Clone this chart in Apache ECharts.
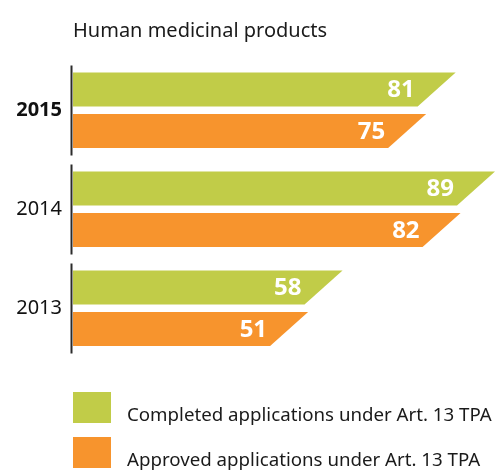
<!DOCTYPE html>
<html>
<head>
<meta charset="utf-8">
<script src="https://cdn.jsdelivr.net/npm/echarts@6/dist/echarts.min.js"></script>
<style>
  html, body { margin: 0; padding: 0; background: #fff; }
  #chart { width: 496px; height: 470px; }
</style>
</head>
<body>
<div id="chart"></div>
<script>
// years, top to bottom
var years = ['2015', '2014', '2013'];
var completed = [81, 89, 58];
var approved = [75, 82, 51];
var seriesNames = ['Completed applications under Art. 13 TPA', 'Approved applications under Art. 13 TPA'];

var GREEN = '#c1cc48';
var ORANGE = '#f7942d';
var FONT = '"Noto Sans", sans-serif';
var XMIN = 3, XMAX = 89.2;

// slanted bar: top-right corner sits on the value, bottom edge is cut back
function slantBar(offset, color) {
    return function (params, api) {
        var v = api.value(0);
        var c = api.value(1);
        var end = api.coord([v, c]);
        var x0 = api.coord([XMIN, c])[0] + 1;
        var band = api.size([0, 1])[1];
        var yc = end[1] + offset * band;
        var h = 34, cut = 38;
        var top = yc - h / 2, bot = yc + h / 2;
        return {
            type: 'group',
            children: [{
                type: 'polygon',
                shape: { points: [[x0, top], [end[0], top], [end[0] - cut, bot], [x0, bot]] },
                style: { fill: color }
            }, {
                type: 'text',
                style: {
                    text: String(v),
                    x: end[0] - cut - 3,
                    y: yc + 1,
                    align: 'right',
                    verticalAlign: 'middle',
                    fill: '#fff',
                    font: 'bold 24px ' + FONT
                }
            }]
        };
    };
}

// one vertical axis piece per year group
function axisPiece(params, api) {
    var c = api.value(1);
    var p = api.coord([XMIN, c]);
    return {
        type: 'line',
        shape: { x1: p[0] - 0.5, y1: p[1] - 45, x2: p[0] - 0.5, y2: p[1] + 45 },
        style: { stroke: '#2b2b2b', lineWidth: 2 }
    };
}

var option = {
    animation: false,
    title: {
        text: 'Human medicinal products',
        left: 68,
        top: 16,
        textStyle: { fontFamily: FONT, fontWeight: 'normal', fontSize: 20, color: '#1a1a1a' }
    },
    legend: {
        orient: 'vertical',
        left: 73,
        top: 392,
        height: 120,
        padding: 0,
        itemWidth: 38,
        itemHeight: 31,
        itemGap: 12,
        icon: 'rect',
        data: seriesNames,
        formatter: function (name) { return '{t|' + name + '}'; },
        textStyle: {
            fontFamily: FONT, fontSize: 18.7, color: '#1a1a1a',
            rich: { t: { fontFamily: FONT, fontSize: 18.7, color: '#1a1a1a', padding: [16, 0, 0, 11] } }
        }
    },
    grid: { left: 72, top: 61, right: 0, height: 297 },
    xAxis: {
        type: 'value', min: XMIN, max: XMAX,
        show: false
    },
    yAxis: {
        type: 'category',
        data: years,
        inverse: true,
        axisLine: { show: false },
        axisTick: { show: false },
        axisLabel: {
            margin: 10,
            fontFamily: FONT,
            fontSize: 20,
            color: '#111',
            formatter: function (val, idx) {
                return idx === 0 ? '{b|' + val + '}' : val;
            },
            rich: { b: { fontFamily: FONT, fontSize: 20, fontWeight: 'bold', color: '#111' } }
        }
    },
    series: [{
        name: seriesNames[0],
        type: 'custom',
        itemStyle: { color: GREEN },
        renderItem: slantBar(-0.212, GREEN),
        encode: { x: 0, y: 1 },
        data: completed.map(function (v, i) { return [v, i]; })
    }, {
        name: seriesNames[1],
        type: 'custom',
        itemStyle: { color: ORANGE },
        renderItem: slantBar(0.207, ORANGE),
        encode: { x: 0, y: 1 },
        data: approved.map(function (v, i) { return [v, i]; })
    }, {
        name: 'axis',
        type: 'custom',
        silent: true,
        renderItem: axisPiece,
        encode: { x: 0, y: 1 },
        data: years.map(function (y, i) { return [XMIN, i]; })
    }]
};

var chart = echarts.init(document.getElementById('chart'));
chart.setOption(option);
</script>
</body>
</html>
